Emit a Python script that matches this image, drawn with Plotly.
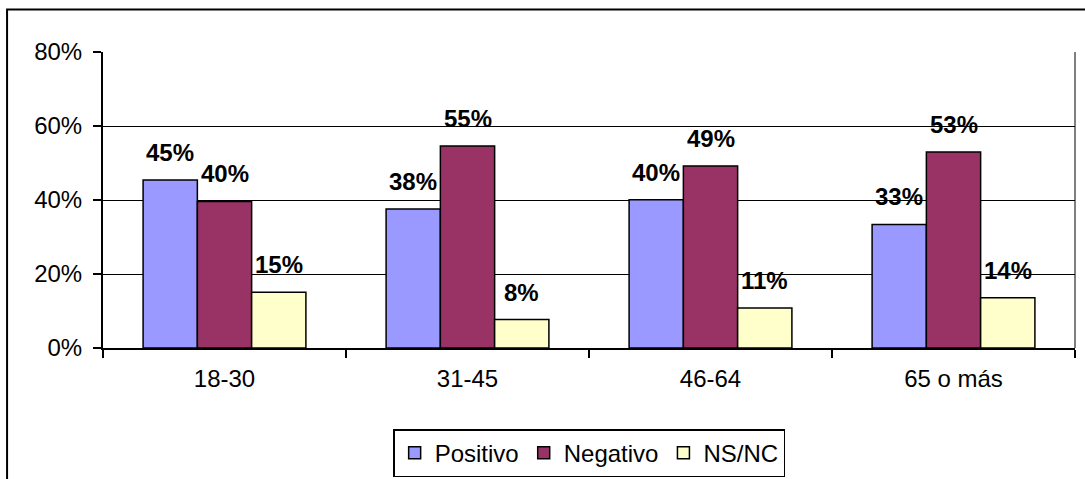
import plotly.graph_objects as go

# === DATOS ===
grupos = ["18-30", "31-45", "46-64", "65 o más"]
positivo = [45.4, 37.6, 40.1, 33.4]
negativo = [39.6, 54.6, 49.2, 53.0]
nsnc = [15.1, 7.7, 10.8, 13.6]
series = ["Positivo", "Negativo", "NS/NC"]
colores = ["#9999FF", "#993366", "#FFFFCC"]
ticks_y = [0, 20, 40, 60, 80]
etiquetas_y = ["0%", "20%", "40%", "60%", "80%"]

FUENTE = "Arial, Liberation Sans, sans-serif"
BARGAP = 0.33

fig = go.Figure()
for nombre, valores, color in zip(series, [positivo, negativo, nsnc], colores):
    fig.add_trace(go.Bar(
        x=grupos, y=valores, name=nombre,
        marker=dict(color=color, line=dict(color="black", width=1.5)),
        hoverinfo="skip",
    ))

# Etiquetas de datos (encima de cada barra)
ancho = (1 - BARGAP) / 3
for k, valores in enumerate([positivo, negativo, nsnc]):
    for i, v in enumerate(valores):
        fig.add_annotation(
            x=i + (k - 1) * ancho, y=v, xref="x", yref="y",
            text=f"<b>{round(v)}%</b>", showarrow=False,
            yanchor="bottom", yshift=12,
            font=dict(family=FUENTE, size=24, color="black"),
        )

# Marco exterior del gráfico y borde derecho del área de trazado
fig.add_shape(type="rect", xref="paper", yref="paper",
              x0=-0.0987, x1=1.2, y0=-1.0, y1=1.144,
              line=dict(color="black", width=2), layer="below")
fig.add_shape(type="line", xref="paper", yref="paper",
              x0=1, x1=1, y0=0, y1=1, line=dict(color="black", width=1))

fig.update_layout(
    width=1085, height=479,
    margin=dict(l=103, r=10, t=52, b=131),
    paper_bgcolor="white", plot_bgcolor="white",
    barmode="group", bargap=BARGAP, bargroupgap=0,
    font=dict(family=FUENTE, size=24, color="black"),
    showlegend=True,
    legend=dict(
        orientation="h", xref="container", yref="container",
        x=0.543, xanchor="center", y=0.004, yanchor="bottom",
        bordercolor="black", borderwidth=1.5, bgcolor="white",
        font=dict(size=24), itemwidth=30, tracegroupgap=0,
    ),
)

fig.update_yaxes(
    range=[0, 80], tickvals=ticks_y, ticktext=etiquetas_y,
    showgrid=True, gridcolor="black", gridwidth=1.3,
    showline=True, linecolor="black", linewidth=2,
    ticks="outside", ticklen=8, tickcolor="black", tickwidth=1.5,
    ticklabelstandoff=6, zeroline=False, automargin=False,
)
fig.update_xaxes(
    showline=True, linecolor="black", linewidth=2,
    ticks="outside", ticklen=8, tickcolor="black", tickwidth=1.5,
    tickson="boundaries", showgrid=False, ticklabelstandoff=8,
    automargin=False,
)

# sin margen del body para que la figura quede en (0, 0)
fig.write_html("out.html", config={"displayModeBar": False},
               post_script="document.body.style.margin='0';")
